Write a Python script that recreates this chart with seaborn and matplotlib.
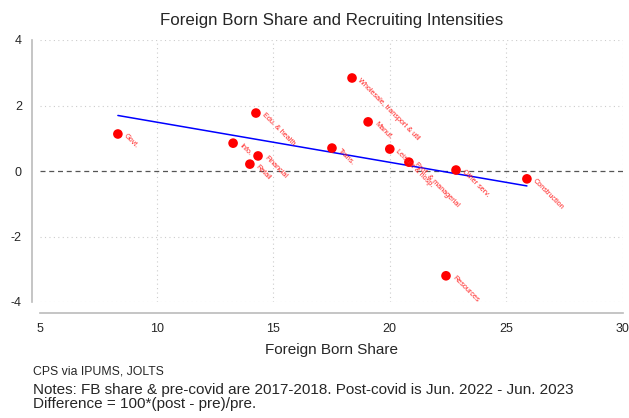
import numpy as np
import pandas as pd
import seaborn as sns
import matplotlib.pyplot as plt

sns.set_style('white')
plt.rcParams['font.family'] = ['Liberation Sans', 'DejaVu Sans']

# industry points
industries = ['Govt.', 'Info.', 'Edu. & health', 'Financial', 'Retail', 'Trans.',
              'Wholesale, transport & util', 'Manuf.', 'Leisure & hosp.',
              'Prof. & managerial', 'Other serv.', 'Construction', 'Resources']
fb_share = [8.34, 13.28, 14.26, 14.35, 14.0, 17.52, 18.38, 19.07, 20.0, 20.82, 22.84, 25.88, 22.41]
recruit_diff = [1.13, 0.85, 1.77, 0.46, 0.21, 0.70, 2.84, 1.50, 0.67, 0.27, 0.03, -0.24, -3.20]

note_lines = ['Notes: FB share & pre-covid are 2017-2018. Post-covid is Jun. 2022 - Jun. 2023',
              'Difference = 100*(post - pre)/pre.']

df = pd.DataFrame({'industry': industries, 'fb': fb_share, 'diff': recruit_diff})

fig = plt.figure(figsize=(6.29, 4.18), dpi=100)
ax = fig.add_axes([40 / 629, 116 / 418, 583 / 629, 262 / 418])

ax.axhline(0, color='#555555', lw=0.9, ls=(0, (4, 3)), zorder=1)
sns.regplot(data=df, x='fb', y='diff', scatter=False, ci=None, ax=ax,
            line_kws={'color': 'blue', 'lw': 1.1, 'zorder': 2})
sns.scatterplot(data=df, x='fb', y='diff', ax=ax, color='red', s=48,
                edgecolor='none', zorder=3)

for _, r in df.iterrows():
    ax.annotate(r['industry'], (r['fb'], r['diff']), xytext=(5, -1),
                textcoords='offset points', color='#ff2020', fontsize=5.2,
                rotation=-45, rotation_mode='anchor', ha='left', va='center',
                zorder=4)

ax.set_xlim(5, 30)
ax.set_ylim(-4, 4)
ax.set_xticks([5, 10, 15, 20, 25, 30])
ax.set_yticks([-4, -2, 0, 2, 4])
ax.set_xticklabels(['5', '10', '15', '20', '25', '30'])
ax.set_yticklabels(['-4', '-2', '0', '2', '4'])

for v in [10, 15, 20, 25, 30]:
    ax.axvline(v, color='#cccccc', lw=0.8, ls=(0, (1, 3)), zorder=0)
for v in [-4, -2, 2, 4]:
    ax.axhline(v, color='#cccccc', lw=0.8, ls=(0, (1, 3)), zorder=0)

sns.despine(ax=ax, offset={'left': 6, 'bottom': 8}, trim=True)
for s in ['left', 'bottom']:
    ax.spines[s].set_color('#bbbbbb')
    ax.spines[s].set_linewidth(1.2)
ax.tick_params(axis='both', which='major', direction='out', length=4,
               width=0.8, color='#bbbbbb', labelsize=9, pad=3)

ax.set_xlabel('Foreign Born Share', fontsize=11, labelpad=6)
ax.set_ylabel('')
ax.set_title('Foreign Born Share and Recruiting Intensities', fontsize=12.2, pad=11)

fig.text(33 / 629, 1 - 372 / 418, 'CPS via IPUMS, JOLTS', fontsize=8.8, va='center')
fig.text(33 / 629, 1 - 390 / 418, note_lines[0], fontsize=11, va='center')
fig.text(33 / 629, 1 - 404 / 418, note_lines[1], fontsize=11, va='center')

fig.savefig('out.png', dpi=100)
